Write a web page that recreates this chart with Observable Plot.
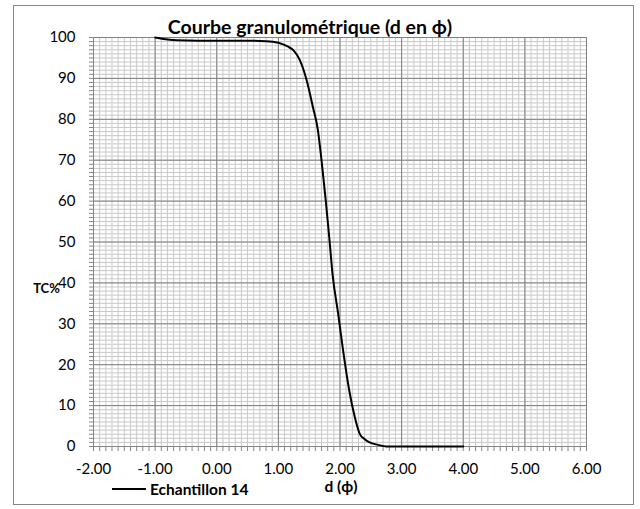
<!DOCTYPE html>
<html><head><meta charset="utf-8">
<script src="https://cdn.jsdelivr.net/npm/d3@7"></script>
<script src="https://cdn.jsdelivr.net/npm/@observablehq/plot@0.6"></script>
<style>
body{margin:0;background:#fff;}
#wrap{position:relative;width:640px;height:509px;font-family:Lato, "Open Sans", sans-serif;}
#frame{position:absolute;left:13px;top:5px;width:619px;height:498px;border:1px solid #868686;pointer-events:none;}
#legend{position:absolute;left:112px;top:480px;font-weight:bold;font-size:15.5px;display:flex;align-items:center;height:17px;}
#legend .sw{display:inline-block;width:34px;height:0;border-top:2px solid #000;margin-right:4px;}
</style></head>
<body><div id="wrap"><div id="frame"></div><div id="legend"><span class="sw"></span><span id="legtxt"></span></div></div>
<script>
const titleText = "Courbe granulométrique (d en ϕ)";
const xLabel = "d (ϕ)";
const yLabel = "TC%";
const seriesName = "Echantillon 14";
const dPhi = [-1, -0.65, -0.3, 0, 0.5, 0.8, 1.0, 1.15, 1.25, 1.35, 1.46, 1.56, 1.64, 1.70, 1.77, 1.83, 1.88, 1.97, 2.05, 2.15, 2.24, 2.32, 2.40, 2.48, 2.62, 2.75, 3.0, 3.5, 4.0];
const tcPct = [100, 99.3, 99.2, 99.2, 99.2, 99.1, 98.7, 97.8, 96.8, 94.4, 89.5, 83, 77.5, 70, 60, 50.4, 42, 32.5, 23.5, 13.7, 7.2, 3.1, 1.8, 1.0, 0.4, 0, 0, 0, 0];
const xTicks = [-2, -1, 0, 1, 2, 3, 4, 5, 6];
const yTicks = [0, 10, 20, 30, 40, 50, 60, 70, 80, 90, 100];

document.getElementById("legtxt").textContent = seriesName;
const data = dPhi.map((d, i) => ({d, tc: tcPct[i]}));
const minorX = d3.range(-20, 61).map(i => i / 10);
const minorY = d3.range(0, 101);
const axisCol = "#868686";

const chart = Plot.plot({
  width: 640, height: 509,
  marginLeft: 93, marginRight: 54, marginTop: 37, marginBottom: 63,
  style: {fontFamily: "Lato, 'Open Sans', sans-serif", fontSize: "15px", background: "transparent", color: "#000"},
  x: {domain: [-2, 6]},
  y: {domain: [0, 100]},
  marks: [
    Plot.gridX(minorX, {stroke: "#c9c9c9", strokeOpacity: 1}),
    Plot.gridY(minorY, {stroke: "#c9c9c9", strokeOpacity: 1}),
    Plot.gridX(xTicks, {stroke: "#808080", strokeOpacity: 1}),
    Plot.gridY(yTicks, {stroke: "#808080", strokeOpacity: 1}),
    Plot.axisX(minorX, {tickSize: 5, tickFormat: () => "", stroke: axisCol, label: null}),
    Plot.axisY(minorY, {tickSize: 4, tickFormat: () => "", stroke: axisCol, label: null}),
    Plot.axisX(xTicks, {tickSize: 0, tickPadding: 17, tickFormat: d => d.toFixed(2), label: null, fill: "#000"}),
    Plot.axisY(yTicks, {tickSize: 0, tickPadding: 18, label: null, fill: "#000"}),
    Plot.ruleX([-2], {stroke: axisCol}),
    Plot.ruleY([0], {stroke: axisCol}),
    Plot.line(data, {x: "d", y: "tc", curve: "monotone-x", stroke: "#000", strokeWidth: 2}),
    Plot.text([titleText], {text: d => d, frameAnchor: "top", dy: -17, dx: -30, fontWeight: "bold", fontSize: 19.5}),
    Plot.text([yLabel], {text: d => d, frameAnchor: "left", textAnchor: "middle", dx: -47, dy: 47, fontWeight: "bold", fontSize: 13}),
    Plot.text([xLabel], {text: d => d, frameAnchor: "bottom", dy: 45, dx: 1, fontWeight: "bold", fontSize: 15.5})
  ]
});
document.getElementById("wrap").appendChild(chart);
chart.style.position = "absolute"; chart.style.left = "0"; chart.style.top = "0";
</script>
</body></html>
